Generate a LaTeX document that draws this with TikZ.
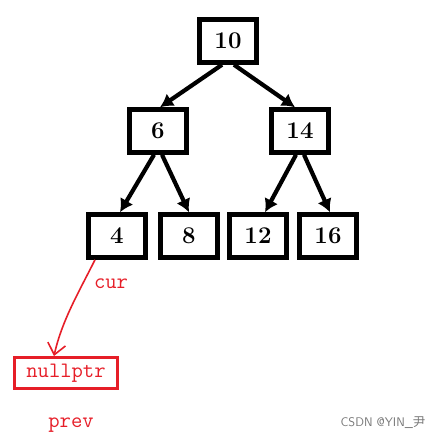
\documentclass[tikz,border=0pt]{standalone}
\usepackage{fontspec}
\newfontfamily\cjkfont{Noto Sans CJK SC}
\usepackage{tikz}
\usetikzlibrary{arrows.meta,positioning}

\definecolor{markred}{RGB}{230,30,40}
\definecolor{wmgray}{RGB}{120,120,120}

\begin{document}
\begin{tikzpicture}[
x=1pt, y=-1pt,
box/.style={rectangle, draw, line width=4.5pt, minimum width=57pt, minimum height=43pt, inner sep=0pt, font=\fontsize{24}{26}\selectfont\bfseries},
arrow/.style={-{Latex[length=13pt,width=15pt]}, line width=4.2pt},
redbox/.style={rectangle, draw=markred, line width=3pt, minimum width=103pt, minimum height=31pt, inner sep=0pt, text=markred, font=\fontsize{22}{24}\selectfont\ttfamily},
redtext/.style={text=markred, font=\fontsize{22}{24}\selectfont\ttfamily},
redline/.style={draw=markred, line width=1.6pt, -{Straight Barb[length=11pt,width=18pt]}}
]
\useasboundingbox (0,0) rectangle (444,439);
\node[box] (n10) at (228,41) {10};
\node[box] (n6) at (158,131) {6};
\node[box] (n14) at (300,131) {14};
\node[box] (n4) at (117,236) {4};
\node[box] (n8) at (189,236) {8};
\node[box] (n12) at (258,236) {12};
\node[box] (n16) at (328,236) {16};
\node[redbox] (null) at (66,373) {nullptr};
\node[redtext] (cur) at (111,284) {cur};
\node[redtext] (prev) at (71,425) {prev};
\node[text=wmgray, font=\fontsize{12.5}{14}\sffamily, anchor=east] (mark) at (429,423) {CSDN @YIN\_{\cjkfont 尹}};
\draw[arrow] ([xshift=-6pt]n10.south) -- ([xshift=2pt]n6.north);
\draw[arrow] ([xshift=6pt]n10.south) -- ([xshift=-5pt]n14.north);
\draw[arrow] ([xshift=-4pt]n6.south) -- ([xshift=3pt]n4.north);
\draw[arrow] ([xshift=4pt]n6.south) -- (n8.north);
\draw[arrow] ([xshift=-4pt]n14.south) -- ([xshift=7pt]n12.north);
\draw[arrow] ([xshift=4pt]n14.south) -- ([xshift=2pt]n16.north);
\draw[redline] ([xshift=-22pt]n4.south) .. controls (80,290) and (62,320) .. ([xshift=-12pt]null.north);
\end{tikzpicture}
\end{document}
